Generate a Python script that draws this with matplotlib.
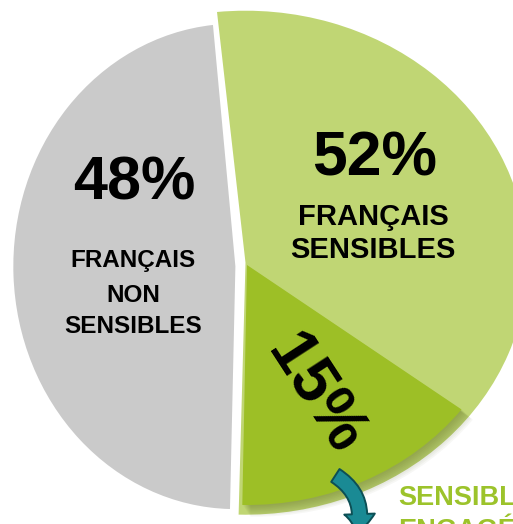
import matplotlib.pyplot as plt
from matplotlib.patches import FancyArrowPatch

W, H = 513, 524

# parts of the pie (percent)
share_labels = ['FRANÇAIS\nNON\nSENSIBLES', 'FRANÇAIS\nSENSIBLES']
share_values = [48, 52]
engaged_value = 15
engaged_label = 'SENSIBLES\nENGAGÉS'

gray = '#cacaca'
light_green = '#c0d674'
dark_green = '#9dbf26'
teal = '#1a8a94'

fig = plt.figure(figsize=(W / 100, H / 100), dpi=100)
fig.patch.set_facecolor('white')


def finish(ax, sx):
    # x squeezed/stretched by sx, y in pixels (up)
    ax.set_aspect('auto')
    ax.set_xlim(0, W / sx)
    ax.set_ylim(0, H)
    ax.axis('off')


# grey part (non sensibles)
sx_g = 0.915
ax_g = fig.add_axes([0, 0, 1, 1])
ax_g.pie([share_values[0], share_values[1]], colors=[gray, 'none'],
         startangle=95.8, counterclock=True, radius=242.7,
         center=(235.4 / sx_g, H - 266.4), wedgeprops=dict(linewidth=0))
finish(ax_g, sx_g)

# green part (sensibles)
sx_v = 1.119
ax_v = fig.add_axes([0, 0, 1, 1])
ax_v.pie([share_values[1], share_values[0]], colors=[light_green, 'none'],
         startangle=95.8, counterclock=False, radius=252,
         center=(245.5 / sx_v, H - 262.7), wedgeprops=dict(linewidth=0))

# soft shadow under the engaged wedge
c_dark = (247 / sx_v, H - 265)
for i in range(1, 10):
    ax_v.pie([engaged_value, 100 - engaged_value], colors=['#3d4a0a', 'none'],
             startangle=-91, counterclock=True, radius=240 + i * 0.4,
             center=(c_dark[0] + i * 0.9 / sx_v, c_dark[1] - i * 0.9),
             wedgeprops=dict(linewidth=0, alpha=0.04))
ax_v.pie([engaged_value, 100 - engaged_value], colors=[dark_green, 'none'],
         startangle=-91, counterclock=True, radius=240, center=c_dark,
         wedgeprops=dict(linewidth=0))
finish(ax_v, sx_v)

# text layer in pixel coordinates
ax_t = fig.add_axes([0, 0, 1, 1])
ax_t.set_xlim(0, W)
ax_t.set_ylim(H, 0)
ax_t.axis('off')
font = dict(family='Liberation Sans', weight='bold', color='black')

ax_t.text(134, 200, f'{share_values[0]}%', fontsize=44, ha='center', va='baseline', **font)
for txt, yb in zip(share_labels[0].split('\n'), [267, 302, 333]):
    ax_t.text(133, yb, txt, fontsize=17.5, ha='center', va='baseline', **font)

ax_t.text(375, 175, f'{share_values[1]}%', fontsize=45, ha='center', va='baseline', **font)
for txt, yb in zip(share_labels[1].split('\n'), [225, 258]):
    ax_t.text(373, yb, txt, fontsize=21, ha='center', va='baseline', **font)

ax_t.text(314, 395, f'{engaged_value}%', fontsize=46, ha='center', va='center',
          rotation=-57, rotation_mode='anchor', **font)

for txt, yb in zip(engaged_label.split('\n'), [505, 538]):
    ax_t.text(398, yb, txt, fontsize=19.5, ha='left', va='baseline',
              family='Liberation Sans', weight='bold', color='#9cc32b')

arrow = FancyArrowPatch((333, 474), (356, 536), connectionstyle='arc3,rad=-0.4',
                        arrowstyle='simple,head_length=14,head_width=22,tail_width=11',
                        facecolor=teal, edgecolor='#0c4f55', linewidth=1.4)
ax_t.add_patch(arrow)

fig.savefig('out.png', dpi=100, facecolor='white')
